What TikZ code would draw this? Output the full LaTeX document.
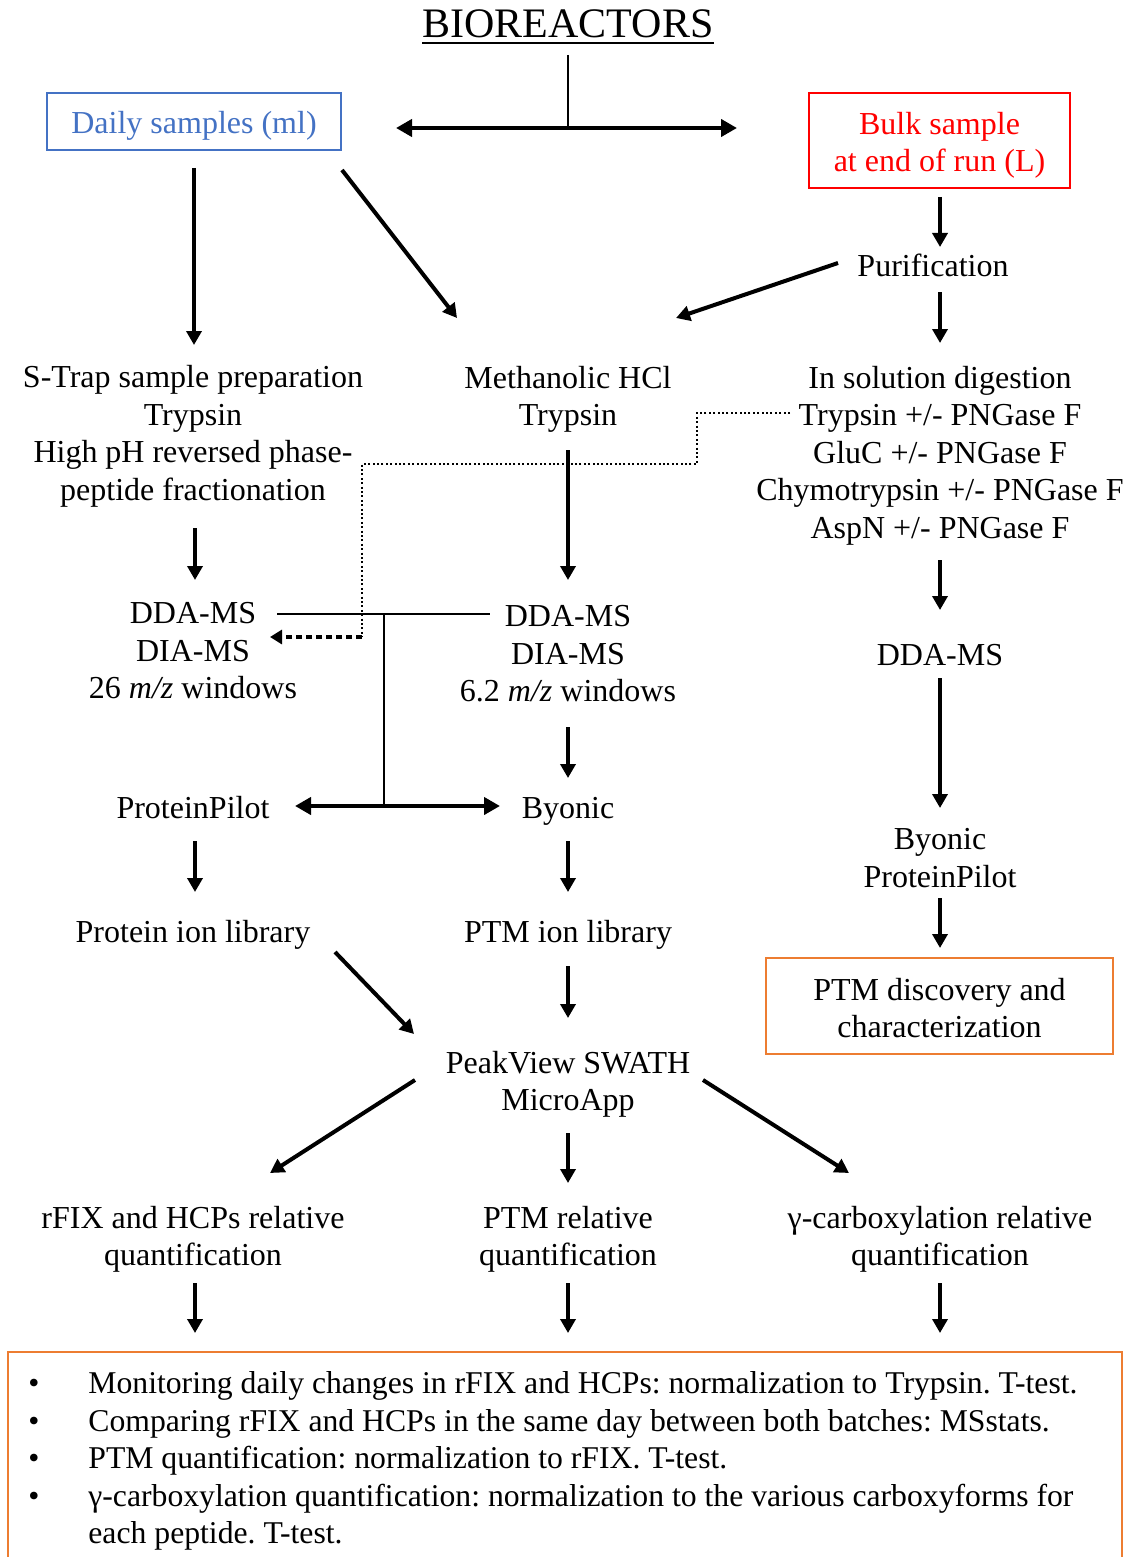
\documentclass[tikz,border=0pt]{standalone}
\usepackage{fontspec}
\setmainfont{Liberation Serif}
\frenchspacing
\usetikzlibrary{arrows.meta}
\definecolor{boxblue}{HTML}{4472C4}
\definecolor{boxred}{HTML}{FF0000}
\definecolor{boxorange}{HTML}{ED7D31}
\begin{document}
\begin{tikzpicture}[x=0.5pt,y=-0.5pt,
  every node/.style={font=\fontsize{16}{18.75}\selectfont, inner sep=0pt, align=center},
  arr/.style={line width=2pt, -{Triangle[length=7pt,width=7.5pt]}},
  dblarr/.style={line width=2.25pt, {Triangle[length=8pt,width=8.5pt]}-{Triangle[length=8pt,width=8.5pt]}},
  thinline/.style={line width=1pt},
  thindot/.style={line width=1pt, dash pattern=on 1pt off 1.2pt},
  thickdot/.style={line width=2pt, dash pattern=on 3pt off 2pt, -{Triangle[length=6pt,width=7pt]}},
  framebox/.style={draw, line width=1.2pt}]
\useasboundingbox (0,0) rectangle (1125,1557);
\clip (0,0) rectangle (1125,1557);

% nodes
\node[font=\fontsize{21}{24}\selectfont] (title) at (568,24) {BIOREACTORS};
\draw[line width=1pt] ([shift={(0,4)}]title.south west) -- ([shift={(0,4)}]title.south east);

\node[framebox, draw=boxblue, minimum width=147pt, minimum height=28.5pt] (daily) at (194,121.5) {};
\node[text=boxblue] (dailytxt) at (194,126) {Daily samples (ml)};
\node[framebox, draw=boxred, minimum width=130.5pt, minimum height=47.5pt] (bulk) at (939.5,140.5) {};
\node[text=boxred] (bulktxt) at (939.5,145.5) {Bulk sample\\at end of run (L)};
\node (purif) at (933,265) {Purification};
\node (strap) at (193,436.5) {S-Trap sample preparation\\Trypsin\\High pH reversed phase-\\peptide fractionation};
\node (meth) at (568,399.5) {Methanolic HCl\\Trypsin};
\node (insol) at (940,455.5) {In solution digestion\\Trypsin +/- PNGase F\\GluC +/- PNGase F\\Chymotrypsin +/- PNGase F\\AspN +/- PNGase F};
\node (dda1) at (193,651) {DDA-MS\\DIA-MS\\26 \textit{m/z} windows};
\node (dda2) at (568,654) {DDA-MS\\DIA-MS\\6.2 \textit{m/z} windows};
\node (dda3) at (940,655) {DDA-MS};
\node (pp) at (193,808) {ProteinPilot};
\node (byo) at (568,811.5) {Byonic};
\node (byopp) at (940,858) {Byonic\\ProteinPilot};
\node (protlib) at (193,934.5) {Protein ion library};
\node (ptmlib) at (568,934.5) {PTM ion library};
\node[framebox, draw=boxorange, minimum width=173.5pt, minimum height=48pt] (ptmdisc) at (939.5,1006) {};
\node (ptmdisctxt) at (939.5,1008) {PTM discovery and\\characterization};
\node (peak) at (568,1084.5) {PeakView SWATH\\MicroApp};
\node (q1) at (193,1239.5) {rFIX and HCPs relative\\quantification};
\node (q2) at (568,1239.5) {PTM relative\\quantification};
\node (q3) at (940,1239.5) {γ-carboxylation relative\\quantification};
\node[draw=boxorange, line width=1pt, minimum width=557pt, minimum height=114pt] (summary) at (565,1466) {};
\node[anchor=north west, font=\fontsize{15.85}{18.75}\selectfont] (sumtext) at (28,1367) {\begin{tabular}{@{}p{30pt}@{}l@{}}
• & Monitoring daily changes in rFIX and HCPs: normalization to Trypsin. T-test.\\
• & Comparing rFIX and HCPs in the same day between both batches: MSstats.\\
• & PTM quantification: normalization to rFIX. T-test.\\
• & γ-carboxylation quantification: normalization to the various carboxyforms for\\
  & each peptide. T-test.
\end{tabular}};

% top split
\coordinate (tsplit) at (568,128);
\draw[thinline] ([shift={(0,31)}]title.center) -- (tsplit);
\draw[dblarr] ([shift={(202,6.5)}]daily.center) -- ([shift={(-202.5,-12.5)}]bulk.center);

% arrows
\draw[arr] ([shift={(0,46.5)}]daily.center) -- ([shift={(1,-91.5)}]strap.center);
\draw[arr] ([shift={(148,48.5)}]daily.center) -- ([shift={(-111,-81.5)}]meth.center);
\draw[arr] ([shift={(0.5,56.5)}]bulk.center) -- ([shift={(7,-18)}]purif.center);
\draw[arr] ([shift={(-95,-2)}]purif.center) -- ([shift={(108,-81.5)}]meth.center);
\draw[arr] ([shift={(7,27)}]purif.center) -- ([shift={(0,-112.5)}]insol.center);
\draw[arr] ([shift={(0,50.5)}]meth.center) -- ([shift={(0,-74)}]dda2.center);
\draw[arr] ([shift={(2,91.5)}]strap.center) -- ([shift={(2,-71)}]dda1.center);
\draw[arr] ([shift={(0,104.5)}]insol.center) -- ([shift={(0,-45)}]dda3.center);

% dotted connector
\draw[thindot] ([shift={(-150,-42.5)}]insol.center) -- ++(-93,0) -- ++(0,51) -- ++(-335,0) -- ++(0,173) coordinate (dcorner);
\draw[thickdot] (dcorner) -- ([shift={(77,-14)}]dda1.center);

% junction between DDA blocks and search engines
\coordinate (j1) at (384,614);
\coordinate (j2) at (384,806);
\draw[thinline] ([shift={(84,-37)}]dda1.center) -- ([shift={(-78,-40)}]dda2.center);
\draw[thinline] (j1) -- (j2);
\draw[dblarr] ([shift={(102,-2)}]pp.center) -- ([shift={(-68,-5.5)}]byo.center);

\draw[arr] ([shift={(0,73)}]dda2.center) -- ([shift={(0,-33.5)}]byo.center);
\draw[arr] ([shift={(0,23)}]dda3.center) -- ([shift={(0,-50)}]byopp.center);
\draw[arr] ([shift={(2,33)}]pp.center) -- ([shift={(2,-42.5)}]protlib.center);
\draw[arr] ([shift={(0,29.5)}]byo.center) -- ([shift={(0,-42.5)}]ptmlib.center);
\draw[arr] ([shift={(0,40)}]byopp.center) -- ([shift={(0.5,-58)}]ptmdisc.center);
\draw[arr] ([shift={(0,31.5)}]ptmlib.center) -- ([shift={(0,-66.5)}]peak.center);
\draw[arr] ([shift={(142,17.5)}]protlib.center) -- ([shift={(-154,-50.5)}]peak.center);
\draw[arr] ([shift={(0,48.5)}]peak.center) -- ([shift={(0,-56.5)}]q2.center);
\draw[arr] ([shift={(-153,-4.5)}]peak.center) -- ([shift={(77,-66.5)}]q1.center);
\draw[arr] ([shift={(135,-4.5)}]peak.center) -- ([shift={(-91,-66.5)}]q3.center);
\draw[arr] ([shift={(2,43.5)}]q1.center) -- ([shift={(-370,-133)}]summary.center);
\draw[arr] ([shift={(0,43.5)}]q2.center) -- ([shift={(3,-133)}]summary.center);
\draw[arr] ([shift={(0,43.5)}]q3.center) -- ([shift={(375,-133)}]summary.center);
\end{tikzpicture}
\end{document}
